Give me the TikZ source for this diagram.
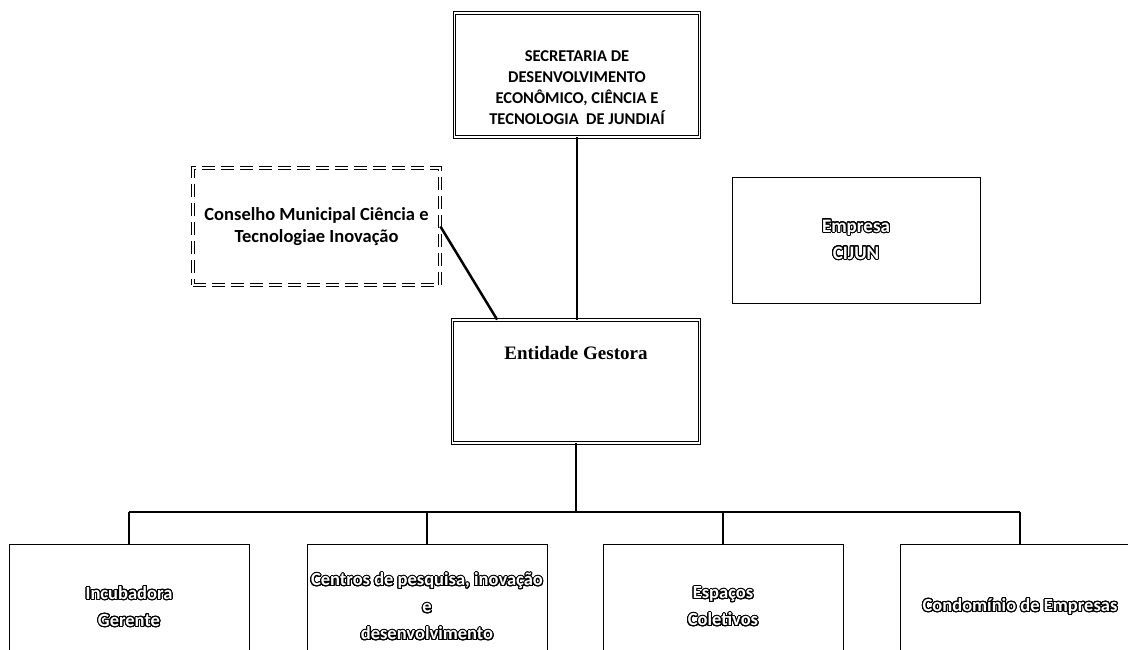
\documentclass[tikz,border=0pt]{standalone}
\usepackage{fontspec}
\setmainfont{Carlito}
\newfontfamily\gestfont{Liberation Serif}
\usepackage{contour}
\contourlength{1pt}
\contournumber{32}
\newcommand{\oltext}[1]{{\color{white}\contour{black}{#1}}}

\begin{document}
\begin{tikzpicture}[x=1pt, y=-1pt,
    box/.style={draw, line width=1pt, inner sep=0pt, align=center},
    dblbox/.style={box, double, double distance=1.5pt, line width=0.8pt},
    dashbox/.style={box, double, double distance=2pt, line width=0.9pt, dash pattern=on 13pt off 6pt},
    leaf/.style={box, minimum width=240pt, minimum height=126pt, font=\bfseries\fontsize{18.5}{27}\selectfont},
    mainline/.style={line width=2.5pt},
    busline/.style={line width=1.8pt}]
  \useasboundingbox (0,0) rectangle (1128,649);
  \clip (0,0) rectangle (1128,649);
  % top of the chart
  \node [dblbox, minimum width=245pt, minimum height=124pt, text height=111pt, text depth=13pt,
    font=\bfseries\fontsize{16.5}{21}\selectfont] (sec) at (577,75)
    {SECRETARIA DE\\DESENVOLVIMENTO\\ECONÔMICO, CIÊNCIA E\\TECNOLOGIA \ DE JUNDIAÍ};
  \node [dashbox, minimum width=247pt, minimum height=117pt,
    font=\bfseries\fontsize{18.5}{22}\selectfont] (con) at (316.5,226.5)
    {Conselho Municipal Ciência e\\Tecnologiae Inovação};
  \node [box, line width=0.8pt, minimum width=248pt, minimum height=126pt,
    font=\bfseries\fontsize{19}{27}\selectfont] (emp) at (856,240)
    {\oltext{Empresa}\\\oltext{CIJUN}};
  \node [dblbox, minimum width=247pt, minimum height=123pt, text height=39pt, text depth=84pt,
    font=\gestfont\bfseries\fontsize{19}{22}\selectfont] (ent) at (576,381.5) {Entidade Gestora};
  % units below
  \node [leaf] (inc) at (129,607) {\oltext{Incubadora}\\\oltext{Gerente}};
  \node [leaf] (cen) at (427,607) {\oltext{Centros de pesquisa, inovação}\\\oltext{e}\\\oltext{desenvolvimento}};
  \node [leaf] (esp) at (723,607) {\oltext{Espaços}\\\oltext{Coletivos}};
  \node [leaf] (cond) at (1020,607) {\oltext{Condomínio de Empresas}};
  % connectors
  \coordinate (hub) at (576,512);
  \draw [mainline] (sec.south) -- (sec.south |- ent.north);
  \draw [mainline] (con.east) -- ([xshift=45pt]ent.north west);
  \draw [mainline] (ent.south) -- (hub);
  \draw [busline] (inc.north |- hub) -- (cond.north |- hub);
  \foreach \n in {inc, cen, esp, cond}
    \draw [mainline] (\n.north) -- (\n.north |- hub);
\end{tikzpicture}
\end{document}
